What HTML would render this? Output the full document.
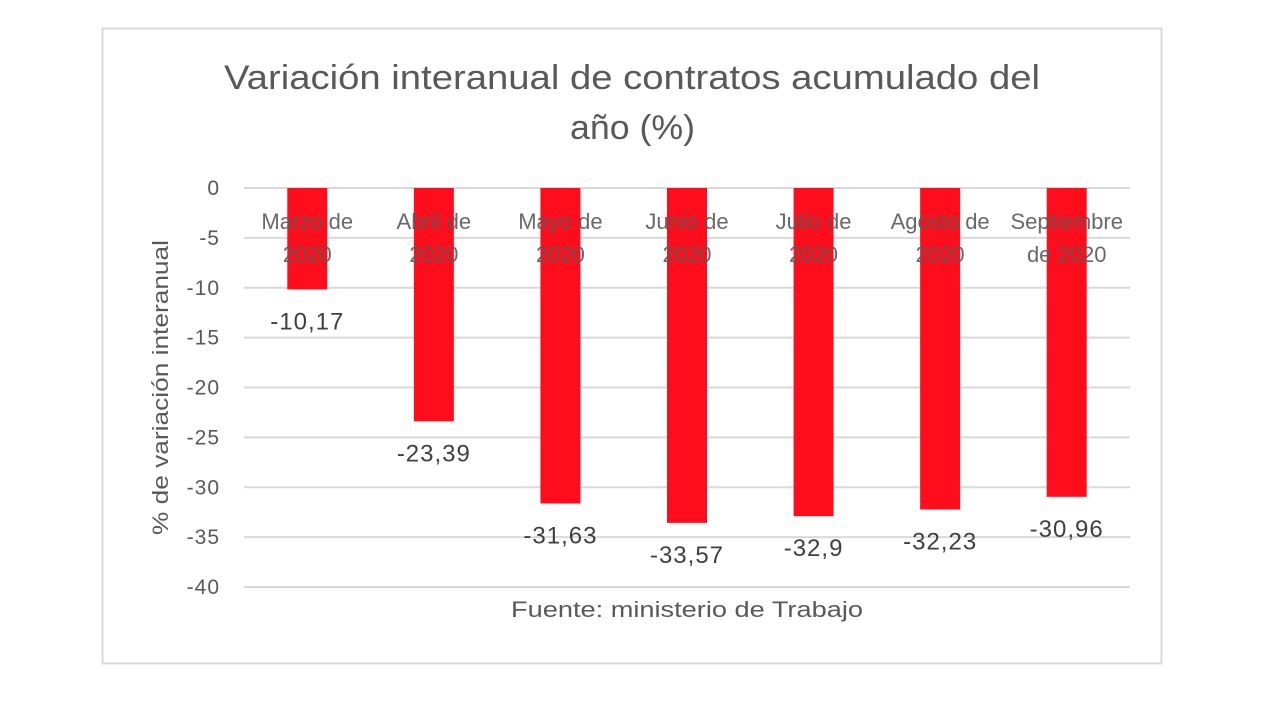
<!DOCTYPE html>
<html><head><meta charset="utf-8"><style>
body{margin:0;background:#fff;width:1282px;height:716px;overflow:hidden;font-family:"Liberation Sans",sans-serif}
</style></head><body>
<svg width="1282" height="716" font-family="Liberation Sans, sans-serif">
<rect x="102.5" y="28.5" width="1059" height="635" fill="#fff" stroke="#d9d9d9" stroke-width="2"/>
<text x="224" y="89" font-size="34" fill="#595959" textLength="816" lengthAdjust="spacingAndGlyphs">Variación interanual de contratos  acumulado del</text>
<text x="570" y="139" font-size="34" fill="#595959" textLength="125" lengthAdjust="spacingAndGlyphs">año (%)</text>
<text transform="translate(168,535) rotate(-90)" font-size="22" fill="#595959" textLength="295" lengthAdjust="spacingAndGlyphs">% de variación interanual</text>
<text x="511" y="617" font-size="22" fill="#595959" textLength="352" lengthAdjust="spacingAndGlyphs">Fuente: ministerio de Trabajo</text>
<g id="grid"></g><g id="bars"></g><g id="labels"></g>
</svg>
<script>
const categories=[["Marzo de","2020"],["Abril de","2020"],["Mayo de","2020"],["Junio de","2020"],["Julio de","2020"],["Agosto de","2020"],["Septiembre","de 2020"]];
const values=[-10.17,-23.39,-31.63,-33.57,-32.9,-32.23,-30.96];
const valueLabels=["-10,17","-23,39","-31,63","-33,57","-32,9","-32,23","-30,96"];
const yTicks=[0,-5,-10,-15,-20,-25,-30,-35,-40];
const NS="http://www.w3.org/2000/svg";
const y=v=>188+(-v)*9.975;
const x0=244,x1=1130,step=(x1-x0)/categories.length;
const cx=i=>x0+step*(i+0.5);
function mk(t,a,p,txt){const e=document.createElementNS(NS,t);for(const k in a)e.setAttribute(k,a[k]);if(txt!==undefined)e.textContent=txt;document.getElementById(p).appendChild(e);return e;}
yTicks.forEach(t=>{
 const l=mk('line',{x1:x0,x2:x1,y1:y(t),y2:y(t),stroke:'#d9d9d9','stroke-width':2},'grid');
 
 
 const tx=mk('text',{x:220,y:y(t)+7,'text-anchor':'end','font-size':21,'letter-spacing':1,fill:'#595959'},'grid',String(t));
 
 
});
values.forEach((v,i)=>{
 const r=mk('rect',{x:cx(i)-20,y:y(0),width:40,height:y(v)-y(0),fill:'#ff0d1c'},'bars');
 
 
 const vl=mk('text',{x:cx(i),y:y(v)+40,'text-anchor':'middle','font-size':24,'letter-spacing':1,fill:'#404040'},'labels',valueLabels[i]);
 
 
 categories[i].forEach((s,j)=>{
  const c=mk('text',{x:cx(i),y:229+j*33,'text-anchor':'middle','font-size':22,fill:'#595959','fill-opacity':0.9},'labels',s);
  
  
 });
});
</script>
</body></html>
